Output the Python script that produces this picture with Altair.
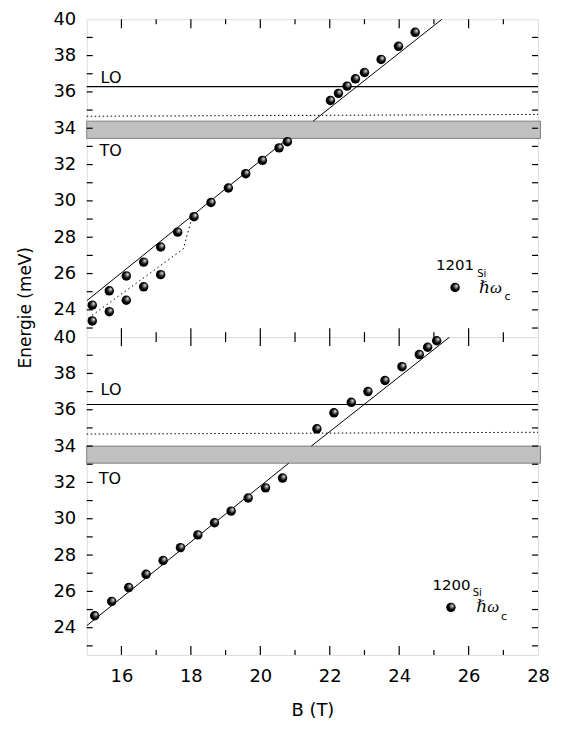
import altair as alt
import pandas as pd

# ---------------- data ----------------
# Top panel (sample 1201_Si)
top_pts_B = [15.16, 15.65, 16.14, 16.64, 17.13, 17.62, 18.09, 18.58, 19.08, 19.58,
             20.06, 20.54, 20.78,
             22.02, 22.25, 22.50, 22.74, 23.00, 23.48, 23.98, 24.46,
             15.16, 15.65, 16.14, 16.64, 17.13]
top_pts_E = [24.26, 25.05, 25.87, 26.63, 27.46, 28.28, 29.13, 29.91, 30.71, 31.50,
             32.23, 32.92, 33.26,
             35.53, 35.92, 36.32, 36.72, 37.07, 37.79, 38.51, 39.28,
             23.39, 23.90, 24.53, 25.27, 25.94]

# Bottom panel (sample 1200_Si)
bot_pts_B = [15.23, 15.72, 16.21, 16.71, 17.20, 17.70, 18.20, 18.68, 19.16, 19.65,
             20.15, 20.64, 21.63, 22.12, 22.62, 23.10, 23.59, 24.08, 24.58, 24.82, 25.08]
bot_pts_E = [24.66, 25.45, 26.21, 26.94, 27.70, 28.41, 29.11, 29.78, 30.42, 31.14,
             31.70, 32.24, 34.95, 35.83, 36.41, 37.00, 37.61, 38.37, 39.04, 39.44, 39.80]

# hbar*omega_c lines (segment id, B, E)
top_line_seg = ["a", "a", "b", "b"]
top_line_B = [15.0, 20.80, 21.52, 25.23]
top_line_E = [24.50, 33.44, 34.39, 40.0]
bot_line_seg = ["a", "a", "b", "b"]
bot_line_B = [15.0, 20.82, 21.47, 25.45]
bot_line_E = [24.11, 33.06, 34.00, 40.0]

# dotted guide in top panel
top_dot_B = [15.05, 17.78, 18.02]
top_dot_E = [23.55, 27.35, 29.00]

# phonon energies
lo_E = 36.29
dotted_B = [15.0, 28.0]
dotted_E = [34.66, 34.76]
top_band = [33.44, 34.39]
bot_band = [33.06, 34.00]
band_B = [15.0, 28.07]

# annotations
lbl_text = ["LO", "TO"]
top_lbl_B = [15.40, 15.37]
top_lbl_E = [36.79, 32.72]
bot_lbl_B = [15.40, 15.35]
bot_lbl_E = [37.11, 32.21]

top_leg = {"num": "1201", "num_B": 25.06, "num_E": 26.47, "sub_B": 26.25, "sub_E": 25.96,
           "ball_B": 25.61, "ball_E": 25.23, "hw_B": 26.30, "hw_E": 25.20, "c_B": 27.03, "c_E": 24.73}
bot_leg = {"num": "1200", "num_B": 24.96, "num_E": 26.33, "sub_B": 26.12, "sub_E": 25.91,
           "ball_B": 25.49, "ball_E": 25.12, "hw_B": 26.22, "hw_E": 25.12, "c_B": 26.93, "c_E": 24.58}

y_tick_vals = list(range(23, 40))
x_major = [16, 18, 20, 22, 24, 26]
x_minor = [17, 19, 21, 23, 25, 27]
y_label_vals = [24, 26, 28, 30, 32, 34, 36, 38, 40]
x_label_vals = [16, 18, 20, 22, 24, 26, 28]

# ---------------- styling ----------------
W, H = 453, 319
FONT = "DejaVu Sans"
xs = alt.Scale(domain=[15, 28], nice=False, zero=False)
ys = alt.Scale(domain=[22.5, 40], nice=False, zero=False)

ball = alt.RadialGradient(
    gradient="radial", x1=0.68, y1=0.30, r1=0.0, x2=0.5, y2=0.5, r2=0.55,
    stops=[alt.GradientStop(offset=0.0, color="#ffffff"),
           alt.GradientStop(offset=0.25, color="#8a8a8a"),
           alt.GradientStop(offset=0.6, color="#000000"),
           alt.GradientStop(offset=1.0, color="#000000")])


def y_axis(title):
    kw = dict(values=y_label_vals, format="d", labelFont=FONT, labelFontSize=18,
              labelColor="black", labelPadding=11, ticks=False, tickSize=0,
              domain=False, grid=False, labelFlush=False, labelOverlap=False)
    if title:
        kw.update(title=title, titleFont=FONT, titleFontSize=17, titleFontWeight="normal",
                  titleColor="black", titleAngle=270, titleX=-56, titleY=289,
                  titleBaseline="alphabetic", titleAlign="center")
    else:
        kw.update(title=None)
    return alt.Axis(**kw)


def x_axis(show):
    if not show:
        return None
    return alt.Axis(values=x_label_vals, format="d", labelFont=FONT, labelFontSize=18,
                    labelColor="black", labelPadding=13, ticks=False, tickSize=0,
                    domain=False, grid=False, labelFlush=False, labelOverlap=False,
                    title="B (T)", titleFont=FONT, titleFontSize=18,
                    titleFontWeight="normal", titleColor="black",
                    titleY=61, titleBaseline="alphabetic", titleAlign="center")


def panel(pts_B, pts_E, line_seg, line_B, line_E, band, lbl_B, lbl_E, leg,
          ytitle, show_x, dot_B=None, dot_E=None):
    xa = x_axis(show_x)
    ya = y_axis(ytitle)

    def X(f):
        return alt.X(f"{f}:Q", scale=xs, axis=xa)

    def Y(f):
        return alt.Y(f"{f}:Q", scale=ys, axis=ya)

    layers = []
    band_df = pd.DataFrame({"b0": [band_B[0]], "b1": [band_B[1]],
                            "e0": [band[0]], "e1": [band[1]]})
    layers.append(alt.Chart(band_df).mark_rect(fill="#c0c0c0", stroke="#808080",
                                               strokeWidth=1, clip=False)
                  .encode(x=X("b0"), x2="b1", y=Y("e0"), y2="e1"))

    dot_df = pd.DataFrame({"B": dotted_B, "E": dotted_E})
    layers.append(alt.Chart(dot_df).mark_line(color="black", strokeWidth=1,
                                              strokeDash=[1.5, 2.5])
                  .encode(x=X("B"), y=Y("E")))

    lo_df = pd.DataFrame({"E": [lo_E]})
    layers.append(alt.Chart(lo_df).mark_rule(color="black", strokeWidth=1.2)
                  .encode(y=Y("E")))

    if dot_B is not None:
        d2 = pd.DataFrame({"B": dot_B, "E": dot_E})
        layers.append(alt.Chart(d2).mark_line(color="black", strokeWidth=1,
                                              strokeDash=[1.5, 3])
                      .encode(x=X("B"), y=Y("E")))

    ln_df = pd.DataFrame({"seg": line_seg, "B": line_B, "E": line_E})
    layers.append(alt.Chart(ln_df).mark_line(color="black", strokeWidth=1, clip=True)
                  .encode(x=X("B"), y=Y("E"), detail="seg:N"))

    pt_df = pd.DataFrame({"B": pts_B + [leg["ball_B"]], "E": pts_E + [leg["ball_E"]]})
    layers.append(alt.Chart(pt_df).mark_circle(size=90, color=ball, opacity=1)
                  .encode(x=X("B"), y=Y("E")))

    lbl_df = pd.DataFrame({"t": lbl_text, "B": lbl_B, "E": lbl_E})
    layers.append(alt.Chart(lbl_df).mark_text(font=FONT, fontSize=16, align="left",
                                              baseline="middle", color="black")
                  .encode(x=X("B"), y=Y("E"), text="t:N"))

    def txt(t, b, e, size, font=FONT, style="normal"):
        d = pd.DataFrame({"t": [t], "B": [b], "E": [e]})
        return (alt.Chart(d).mark_text(font=font, fontSize=size, fontStyle=style,
                                       align="left", baseline="middle", color="black")
                .encode(x=X("B"), y=Y("E"), text="t:N"))

    layers.append(txt(leg["num"], leg["num_B"], leg["num_E"], 15))
    layers.append(txt("Si", leg["sub_B"], leg["sub_E"], 10))
    layers.append(txt("\u210f\u03c9", leg["hw_B"], leg["hw_E"], 17,
                      font="Liberation Serif, DejaVu Serif", style="italic"))
    layers.append(txt("c", leg["c_B"], leg["c_E"], 11))

    # inward ticks
    yt = pd.DataFrame({"v": y_tick_vals})
    layers.append(alt.Chart(yt).mark_rule(color="black", strokeWidth=1.2)
                  .encode(y=Y("v"), x=alt.value(0), x2=alt.value(6)))
    layers.append(alt.Chart(yt).mark_rule(color="black", strokeWidth=1.2)
                  .encode(y=Y("v"), x=alt.value(W - 6), x2=alt.value(W)))
    xmj = pd.DataFrame({"v": x_major})
    xmn = pd.DataFrame({"v": x_minor})
    for df, ln in ((xmj, 9), (xmn, 5)):
        layers.append(alt.Chart(df).mark_rule(color="black", strokeWidth=1.2)
                      .encode(x=X("v"), y=alt.value(0), y2=alt.value(ln)))
        layers.append(alt.Chart(df).mark_rule(color="black", strokeWidth=1.2)
                      .encode(x=X("v"), y=alt.value(H - ln), y2=alt.value(H)))

    return alt.layer(*layers).properties(width=W, height=H)


top = panel(top_pts_B, top_pts_E, top_line_seg, top_line_B, top_line_E, top_band,
            top_lbl_B, top_lbl_E, top_leg, "Energie (meV)", False, top_dot_B, top_dot_E)
bot = panel(bot_pts_B, bot_pts_E, bot_line_seg, bot_line_B, bot_line_E, bot_band,
            bot_lbl_B, bot_lbl_E, bot_leg, None, True)

chart = (alt.vconcat(top, bot, spacing=0)
         .properties(bounds="flush",
                     padding={"left": 8, "top": 0, "right": 5, "bottom": 5})
         .configure_view(stroke="black", strokeWidth=1.8)
         .configure(background="white"))

chart.save("out.html", embed_options={"renderer": "svg", "actions": False})
